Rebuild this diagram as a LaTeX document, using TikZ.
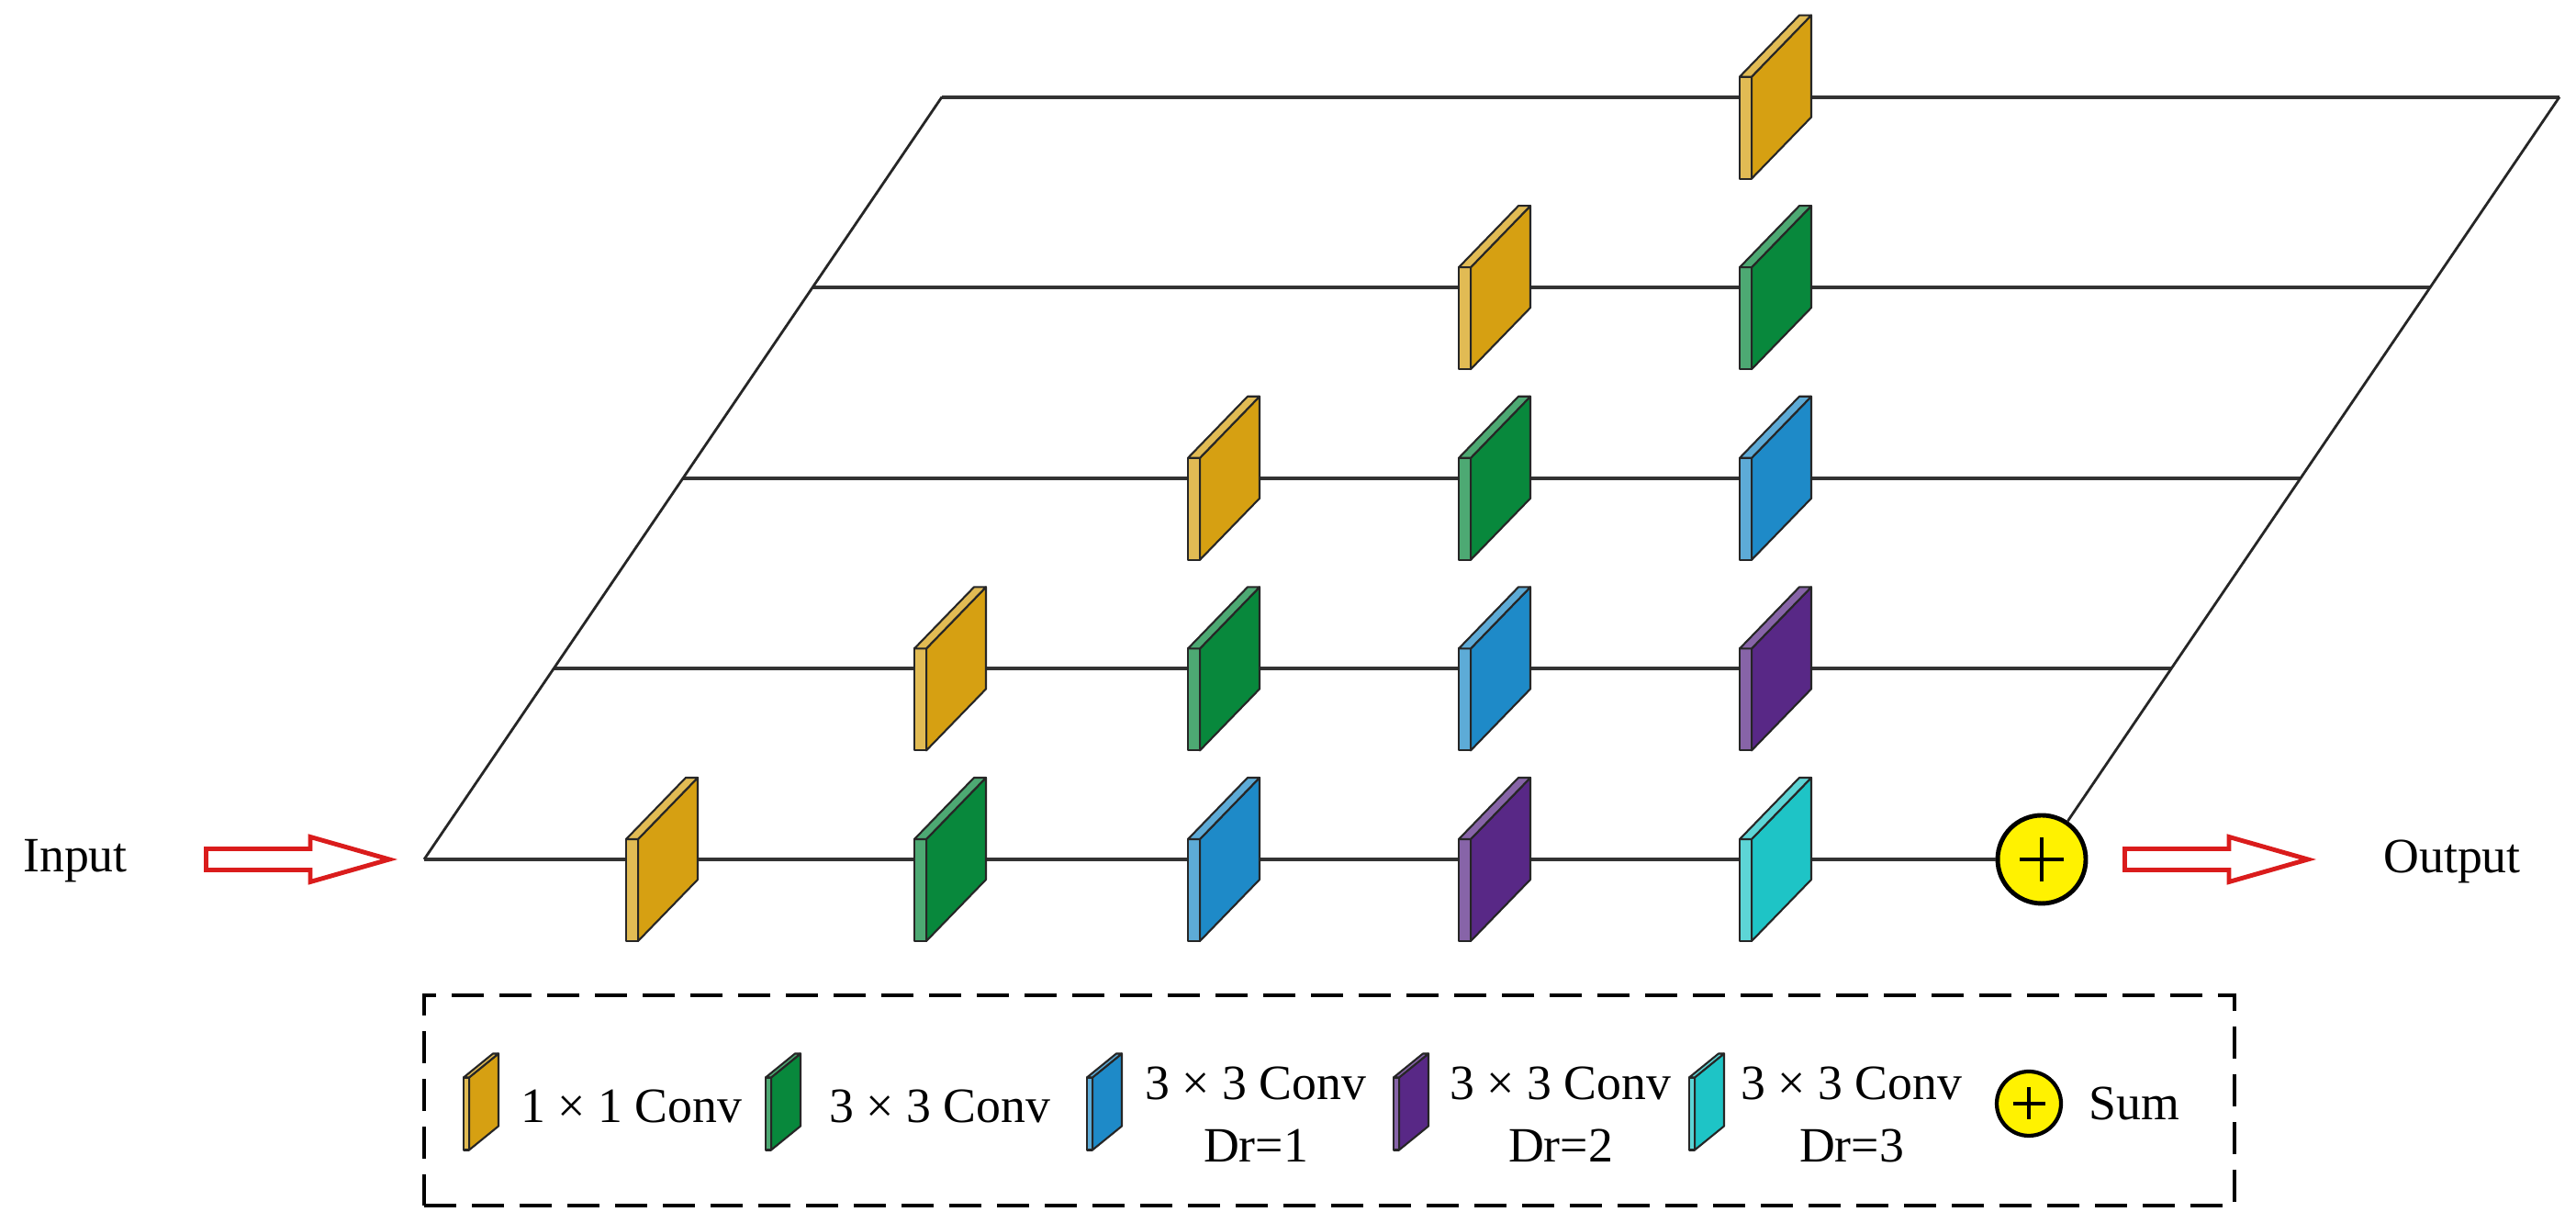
\documentclass[tikz,border=0pt]{standalone}
\usepackage{fontspec}
\setmainfont{Liberation Serif}
\usetikzlibrary{calc}

\definecolor{goldslab}{RGB}{214,160,18}
\definecolor{greenslab}{RGB}{8,136,60}
\definecolor{blueslab}{RGB}{30,138,200}
\definecolor{purpleslab}{RGB}{88,40,134}
\definecolor{cyanslab}{RGB}{30,196,198}
\definecolor{arrowred}{RGB}{218,28,28}

\tikzset{
	rowline/.style={line width=1.1pt, color=black!80},
	edgeline/.style={line width=0.8pt, color=black!85},
	slabedge/.style={line width=0.6pt, draw=black!85, line join=round},
	hollowarrow/.style={line width=1.4pt, draw=arrowred, fill=white, line join=miter},
	sumnode/.style={circle, draw=black, fill=yellow, inner sep=0pt,
		path picture={\draw[line width=1.4pt]
			($(path picture bounding box.center)!0.5!(path picture bounding box.west)$) --
			($(path picture bounding box.center)!0.5!(path picture bounding box.east)$)
			($(path picture bounding box.center)!0.5!(path picture bounding box.north)$) --
			($(path picture bounding box.center)!0.5!(path picture bounding box.south)$);}},
	legendbox/.style={draw, line width=1.4pt, dash pattern=on 0.35cm off 0.17cm},
	label/.style={font=\fontsize{15.3}{19.3}\selectfont, inner sep=0pt, align=center}
}

% x, y, colour, strip, depth, rise, height
\newcommand{\slab}[7]{%
	\begin{scope}[shift={(#1,#2)}]
		\pgfmathsetmacro{\slabL}{-(#4+#5)/2}
		\pgfmathsetmacro{\slabF}{\slabL+#4}
		\pgfmathsetmacro{\slabR}{(#4+#5)/2}
		\pgfmathsetmacro{\slabK}{\slabR-#4}
		\pgfmathsetmacro{\slabB}{-(#6+#7)/2}
		\pgfmathsetmacro{\slabT}{\slabB+#7}
		\pgfmathsetmacro{\slabV}{\slabB+#6}
		\pgfmathsetmacro{\slabU}{(#6+#7)/2}
		\filldraw[slabedge, fill=#3] (\slabF,\slabB) -- (\slabR,\slabV) -- (\slabR,\slabU) -- (\slabF,\slabT) -- cycle;
		\filldraw[slabedge, fill=#3!72!white] (\slabL,\slabB) rectangle (\slabF,\slabT);
		\filldraw[slabedge, fill=#3!72!white] (\slabL,\slabT) -- (\slabF,\slabT) -- (\slabR,\slabU) -- (\slabK,\slabU) -- cycle;
	\end{scope}}
\newcommand{\gridslab}[3]{\slab{#1}{#2}{#3}{0.13}{0.65}{0.67}{1.11}}
\newcommand{\keyslab}[3]{\slab{#1}{#2}{#3}{0.06}{0.32}{0.26}{0.79}}

\begin{document}
\begin{tikzpicture}
	\useasboundingbox (0,0) rectangle (28.06,13.32);
	
	\coordinate (l0) at (4.62,3.96);
	\coordinate (l1) at (6.03,6.036);
	\coordinate (l2) at (7.44,8.112);
	\coordinate (l3) at (8.85,10.188);
	\coordinate (l4) at (10.26,12.264);
	
	\coordinate (r1) at (23.65,6.036);
	\coordinate (r2) at (25.06,8.112);
	\coordinate (r3) at (26.47,10.188);
	\coordinate (r4) at (27.88,12.264);
	
	\node[sumnode, line width=1.4pt, minimum size=0.96cm] (sum) at (22.24,3.96) {};
	
	\draw[rowline] (l0) -- (sum);
	\draw[rowline] (l1) -- (r1);
	\draw[rowline] (l2) -- (r2);
	\draw[rowline] (l3) -- (r3);
	\draw[rowline] (l4) -- (r4);
	\draw[edgeline] (l0) -- (l4);
	\draw[edgeline] (r4) -- (sum);
	
	\gridslab{7.21}{3.96}{goldslab}
	\gridslab{10.35}{3.96}{greenslab}
	\gridslab{13.33}{3.96}{blueslab}
	\gridslab{16.28}{3.96}{purpleslab}
	\gridslab{19.34}{3.96}{cyanslab}
	
	\gridslab{10.35}{6.036}{goldslab}
	\gridslab{13.33}{6.036}{greenslab}
	\gridslab{16.28}{6.036}{blueslab}
	\gridslab{19.34}{6.036}{purpleslab}
	
	\gridslab{13.33}{8.112}{goldslab}
	\gridslab{16.28}{8.112}{greenslab}
	\gridslab{19.34}{8.112}{blueslab}
	
	\gridslab{16.28}{10.188}{goldslab}
	\gridslab{19.34}{10.188}{greenslab}
	
	\gridslab{19.34}{12.264}{goldslab}
	
	\node[label] (input) at (0.82,3.94) {Input};
	\node[label] (output) at (26.71,3.94) {Output};
	
	\coordinate (inarrow) at (2.245,3.96);
	\coordinate (outarrow) at (23.145,3.96);
	\draw[hollowarrow] (inarrow) ++(0,0.115) -- ++(1.135,0) -- ++(0,0.13) -- ++(0.86,-0.245) -- ++(-0.86,-0.245) -- ++(0,0.13) -- ++(-1.135,0) -- cycle;
	\draw[hollowarrow] (outarrow) ++(0,0.115) -- ++(1.135,0) -- ++(0,0.13) -- ++(0.86,-0.245) -- ++(-0.86,-0.245) -- ++(0,0.13) -- ++(-1.135,0) -- cycle;
	
	\node[legendbox, minimum width=19.72cm, minimum height=2.29cm] (legend) at (14.48,1.335) {};
	
	\keyslab{5.24}{1.32}{goldslab}
	\node[label] (key1) at (6.88,1.27) {1 × 1 Conv};
	\keyslab{8.53}{1.32}{greenslab}
	\node[label] (key2) at (10.24,1.27) {3 × 3 Conv};
	\keyslab{12.03}{1.32}{blueslab}
	\node[label] (key3) at (13.68,1.18) {3 × 3 Conv\\Dr=1};
	\keyslab{15.37}{1.32}{purpleslab}
	\node[label] (key4) at (17.0,1.18) {3 × 3 Conv\\Dr=2};
	\keyslab{18.59}{1.32}{cyanslab}
	\node[label] (key5) at (20.17,1.18) {3 × 3 Conv\\Dr=3};
	\node[sumnode, line width=1.2pt, minimum size=0.7cm] (keysum) at (22.10,1.30) {};
	\node[label] (key6) at (23.25,1.30) {Sum};
\end{tikzpicture}
\end{document}
